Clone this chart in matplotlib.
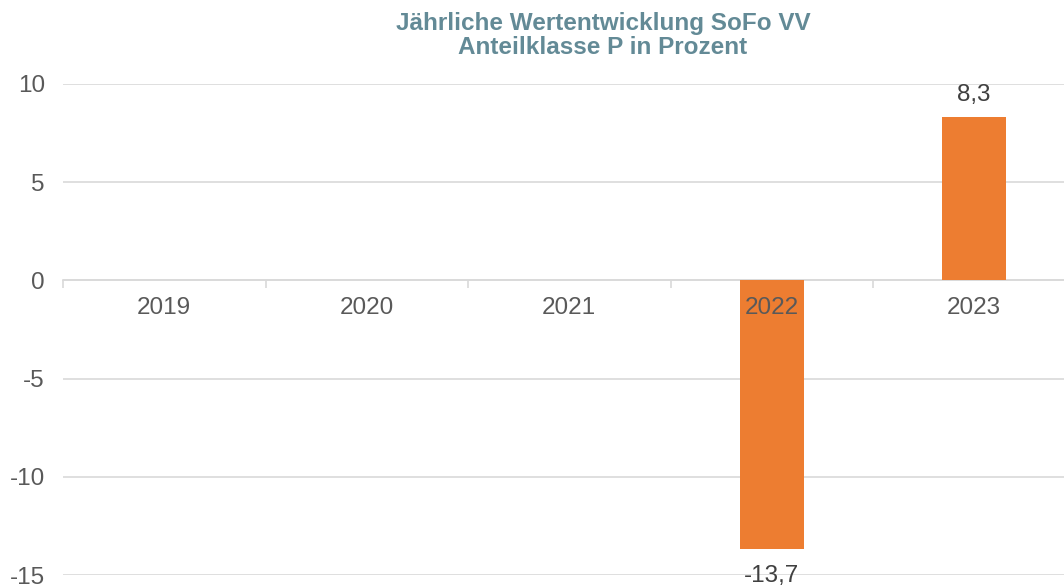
import numpy as np
import matplotlib.pyplot as plt

plt.rcParams["font.family"] = ["Liberation Sans", "DejaVu Sans"]

# data
years = ["2019", "2020", "2021", "2022", "2023"]
values = [np.nan, np.nan, np.nan, -13.7, 8.3]
labels = ["", "", "", "-13,7", "8,3"]
yticks = [-15, -10, -5, 0, 5, 10]

bar_color = "#ED7D31"
grid_color = "#D9D9D9"
title_color = "#638A96"

fig = plt.figure(figsize=(10.64, 5.88), dpi=100)
ax = fig.add_axes([63 / 1064, 13 / 588, 1012.5 / 1064, 491 / 588])

x = np.arange(len(years))
ax.bar(x, values, width=0.316, color=bar_color, zorder=2)

for xi, v, lab in zip(x, values, labels):
    if np.isnan(v):
        continue
    if v >= 0:
        ax.text(xi, v + 0.6, lab, ha="center", va="bottom", fontsize=17.5, color="#404040")
    else:
        ax.text(xi, v - 0.8, lab, ha="center", va="top", fontsize=17.5, color="#404040")

ax.set_xlim(-0.5, len(years) - 0.5)
ax.set_ylim(-15, 10)
ax.set_yticks(yticks)
ax.set_yticklabels([str(t) for t in yticks])
ax.yaxis.grid(True, color=grid_color, linewidth=1.2)
ax.yaxis.set_zorder(1)
ax.tick_params(axis="y", length=0, pad=13, labelsize=17.5, labelcolor="#595959")

# category axis at zero, labels drawn over the bars
ax.spines["bottom"].set_position(("data", 0))
ax.spines["bottom"].set_color(grid_color)
ax.spines["bottom"].set_linewidth(1.2)
ax.spines["bottom"].set_zorder(1)
for s in ["top", "right", "left"]:
    ax.spines[s].set_visible(False)
ax.xaxis.set_zorder(4)
ax.set_xticks(x)
ax.set_xticklabels(years)
ax.set_xticks(np.arange(len(years) + 1) - 0.5, minor=True)
ax.tick_params(axis="x", which="major", length=0, pad=12, labelsize=17.5, labelcolor="#595959")
ax.tick_params(axis="x", which="minor", length=6, width=1.2, color=grid_color)

fig.text(603 / 1064, 1 - 35.5 / 588, "Jährliche Wertentwicklung SoFo VV\nAnteilklasse P in Prozent",
         ha="center", va="center", fontsize=17.5, fontweight="bold", color=title_color,
         linespacing=1.05)

fig.savefig("out.png", dpi=100)
